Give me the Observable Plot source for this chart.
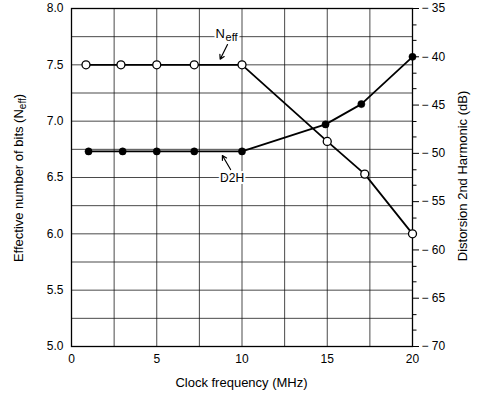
<!DOCTYPE html>
<html>
<head>
<meta charset="utf-8">
<script src="https://cdn.jsdelivr.net/npm/d3@7"></script>
<script src="https://cdn.jsdelivr.net/npm/@observablehq/plot@0.6"></script>
<style>
  html, body { margin: 0; padding: 0; background: white; }
</style>
</head>
<body>
<div id="chart"></div>
<script>
// ---- data ----
const neffFreq = [0.85, 2.9, 5, 7.2, 10, 15, 17.2, 20];
const neffBits = [7.5, 7.5, 7.5, 7.5, 7.5, 6.82, 6.53, 6.0];
const d2hFreq  = [1, 3, 5, 7.2, 10, 14.9, 17, 20];
const d2hDb    = [-49.8, -49.8, -49.8, -49.8, -49.8, -47.0, -44.9, -40.0];

const xTicks  = [0, 5, 10, 15, 20];
const yTicks  = [5, 5.5, 6, 6.5, 7, 7.5, 8];
const xGrid   = [2.5, 5, 7.5, 10, 12.5, 15, 17.5];
const yGrid   = [5.25, 5.5, 5.75, 6, 6.25, 6.5, 6.75, 7, 7.25, 7.5, 7.75];
const dbTicks = [-35, -40, -45, -50, -55, -60, -65, -70];
const dbMinor = [-36.7, -38.3, -41.7, -43.3, -46.7, -48.3, -51.7, -53.3, -56.7, -58.3, -61.7, -63.3, -66.7, -68.3];
const xDomain = [0, 20];
const yDomain = [5, 8];
const dbDomain = [-70, -35];

// annotation anchors (data units)
const neffLabel = [{x: 8.45, y: 7.778}];
const neffArrow = [{x1: 9.15, y1: 7.68, x2: 8.72, y2: 7.55}];
const d2hLabel  = [{x: 9.42, y: 6.49}];
const d2hArrow  = [{x1: 9.33, y1: 6.571, x2: 8.85, y2: 6.695}];

// map dB onto the bits axis
const toBits = db => yDomain[0] + (db - dbDomain[0]) * (yDomain[1] - yDomain[0]) / (dbDomain[1] - dbDomain[0]);
const toDb = b => dbDomain[0] + (b - yDomain[0]) * (dbDomain[1] - dbDomain[0]) / (yDomain[1] - yDomain[0]);

const neff = neffFreq.map((f, i) => ({f, v: neffBits[i]}));
const d2h  = d2hFreq.map((f, i) => ({f, v: toBits(d2hDb[i])}));

const font = "'Liberation Sans', Arial, Helvetica, sans-serif";
const gridStyle = {stroke: "#111", strokeOpacity: 0.85, strokeWidth: 0.9};
const halo = {stroke: "white", strokeWidth: 4, paintOrder: "stroke", fill: "black"};

const chart = Plot.plot({
  width: 479,
  height: 395,
  marginLeft: 71,
  marginRight: 67,
  marginTop: 8,
  marginBottom: 49,
  style: {fontFamily: font, fontSize: "12px", color: "black", background: "white", overflow: "visible"},
  x: {domain: xDomain},
  y: {domain: yDomain},
  marks: [
    Plot.gridX(xGrid, gridStyle),
    Plot.gridY(yGrid, gridStyle),
    Plot.frame({stroke: "black", strokeWidth: 1.3}),
    Plot.axisX(xTicks, {tickSize: 0, tickPadding: 8, label: null, fontSize: 12}),
    Plot.axisY(yTicks, {tickSize: 0, tickPadding: 8, label: null, fontSize: 12, tickFormat: d3.format(".1f")}),
    Plot.axisY(dbTicks.map(toBits), {anchor: "right", tickSize: 6, tickPadding: 3, label: null, fontSize: 12,
      tickFormat: b => "\u2212 " + Math.abs(Math.round(toDb(b)))}),
    Plot.axisY(dbMinor.map(toBits), {anchor: "right", tickSize: 3.5, tickPadding: 0, label: null, tickFormat: () => ""}),
    Plot.line(neff, {x: "f", y: "v", stroke: "black", strokeWidth: 1.8}),
    Plot.line(d2h, {x: "f", y: "v", stroke: "black", strokeWidth: 1.8}),
    Plot.dot(d2h, {x: "f", y: "v", r: 3.6, fill: "black", stroke: "black", strokeWidth: 0.5}),
    Plot.dot(neff, {x: "f", y: "v", r: 4, fill: "white", stroke: "black", strokeWidth: 1.3}),
    // annotations
    Plot.text(neffLabel, {x: "x", y: "y", text: () => "N", textAnchor: "start", fontSize: 13, ...halo}),
    Plot.text(neffLabel, {x: "x", y: "y", text: () => "eff", textAnchor: "start", fontSize: 11, dx: 10, dy: 4, ...halo}),
    Plot.arrow(neffArrow, {x1: "x1", y1: "y1", x2: "x2", y2: "y2", stroke: "black", strokeWidth: 1.2, headLength: 6}),
    Plot.text(d2hLabel, {x: "x", y: "y", text: () => "D2H", textAnchor: "middle", fontSize: 12, ...halo}),
    Plot.arrow(d2hArrow, {x1: "x1", y1: "y1", x2: "x2", y2: "y2", stroke: "black", strokeWidth: 1.2, headLength: 6})
  ]
});

document.getElementById("chart").appendChild(chart);

// axis titles
const svg = d3.select(chart);
const xs = chart.scale("x").range;
const ys = chart.scale("y").range;
const cx = (xs[0] + xs[1]) / 2;
const cy = (ys[0] + ys[1]) / 2;

svg.append("text")
  .attr("x", cx).attr("y", 387)
  .attr("text-anchor", "middle")
  .attr("font-family", font).attr("font-size", 13).attr("fill", "black")
  .text("Clock frequency (MHz)");

const lt = svg.append("text")
  .attr("transform", `translate(23,${cy + 1}) rotate(-90)`)
  .attr("text-anchor", "middle")
  .attr("font-family", font).attr("font-size", 13).attr("fill", "black");
lt.append("tspan").text("Effective number of bits (N");
lt.append("tspan").attr("font-size", 10).attr("dy", 3).text("eff");
lt.append("tspan").attr("dy", -3).text(")");

svg.append("text")
  .attr("transform", `translate(467,${cy - 1}) rotate(-90)`)
  .attr("text-anchor", "middle")
  .attr("font-family", font).attr("font-size", 13).attr("fill", "black")
  .text("Distorsion 2nd Harmonic (dB)");
</script>
</body>
</html>
